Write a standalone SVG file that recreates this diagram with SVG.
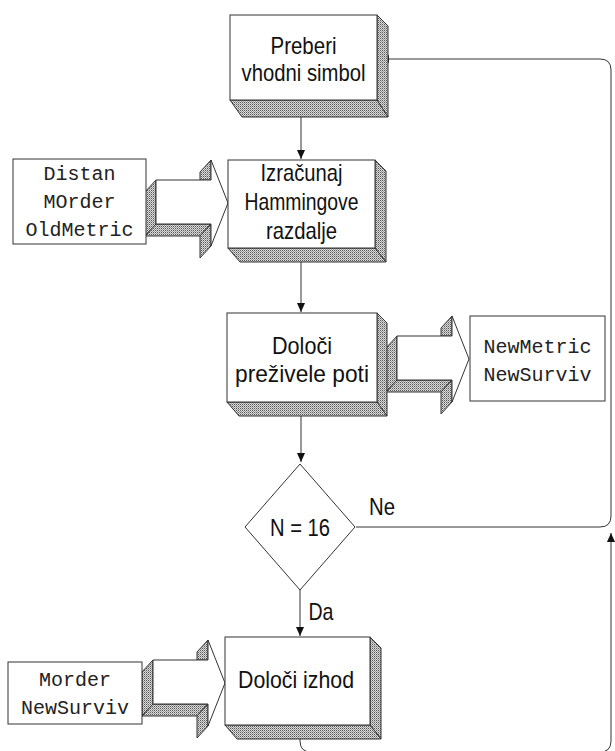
<svg xmlns="http://www.w3.org/2000/svg" xmlns:xlink="http://www.w3.org/1999/xlink" width="615" height="751" viewBox="0 0 615 751">
<style>
  .face { fill:#ffffff; stroke:#333; stroke-width:1; }
  .shade { fill:url(#stip); stroke:#333; stroke-width:1; stroke-linejoin:round; }
  .t { font-family:"Liberation Sans", Arial, sans-serif; font-size:24px; fill:#111; text-anchor:middle; }
  .m { font-family:"Liberation Mono", "Courier New", monospace; font-size:20px; fill:#222; text-anchor:middle; }
  .c { fill:none; stroke:#333; stroke-width:1; }
</style>
<defs>
  <pattern id="stip" width="2" height="2" patternUnits="userSpaceOnUse">
    <rect width="2" height="2" fill="#dcdcdc"/>
    <rect x="0" y="0" width="1" height="1" fill="#555"/>
    <rect x="1" y="1" width="1" height="1" fill="#999"/>
  </pattern>
  <marker id="ah" markerWidth="10" markerHeight="8" refX="9" refY="4" orient="auto" markerUnits="userSpaceOnUse">
    <path d="M0,0 L9,4 L0,8 Z" fill="#111"/>
  </marker>
  <g id="blk">
    <polygon class="shade" points="11,20 0,32 0,76 11,64"/>
    <polygon class="shade" points="11,64 66,64 55,76 0,76"/>
    <polygon class="shade" points="66,0 66,20 55,20 55,12"/>
    <polygon class="shade" points="66,64 66,86 55,98 55,76"/>
    <polygon class="face" points="11,20 66,20 66,0 83,43 66,86 66,64 11,64"/>
  </g>
</defs>
<rect width="615" height="751" fill="#ffffff"/>

<g id="connectors">
  <path class="c" d="M301,100 V159" marker-end="url(#ah)"/>
  <path class="c" d="M301,248 V312" marker-end="url(#ah)"/>
  <path class="c" d="M301,402 V462" marker-end="url(#ah)"/>
  <path class="c" d="M300,590 V636" marker-end="url(#ah)"/>
  <path class="c" d="M356,527 H600 Q611,527 611,516 V70 Q611,59 600,59 H380" marker-end="url(#ah)"/>
  <path class="c" d="M300,725 V741 Q300,752 311,752 H600 Q611,752 611,741 V533" marker-end="url(#ah)"/>
  <use xlink:href="#blk" transform="translate(145,160)"/>
  <use xlink:href="#blk" transform="translate(386,316)"/>
  <use xlink:href="#blk" transform="translate(142,640)"/>
</g>

<g id="n-preberi">
  <polygon class="shade" points="377,15 388,26 388,117 377,100"/>
  <polygon class="shade" points="230,100 242,117 388,117 377,100"/>
  <rect class="face" x="230" y="15" width="147" height="85"/>
  <text class="t" x="303.5" y="54" textLength="66" lengthAdjust="spacingAndGlyphs">Preberi</text>
  <text class="t" x="303.5" y="81" textLength="124" lengthAdjust="spacingAndGlyphs">vhodni simbol</text>
</g>

<g id="n-hamming">
  <polygon class="shade" points="375,160 386,171 386,262 375,248"/>
  <polygon class="shade" points="228,248 240,262 386,262 375,248"/>
  <rect class="face" x="228" y="160" width="147" height="88"/>
  <text class="t" x="301.5" y="181" textLength="82" lengthAdjust="spacingAndGlyphs">Izračunaj</text>
  <text class="t" x="301.5" y="210" textLength="114" lengthAdjust="spacingAndGlyphs">Hammingove</text>
  <text class="t" x="301.5" y="239" textLength="71" lengthAdjust="spacingAndGlyphs">razdalje</text>
</g>

<g id="n-doloci">
  <polygon class="shade" points="377,313 387,323 387,416 377,402"/>
  <polygon class="shade" points="227,402 239,416 387,416 377,402"/>
  <rect class="face" x="227" y="313" width="150" height="89"/>
  <text class="t" x="302" y="354" textLength="60" lengthAdjust="spacingAndGlyphs">Določi</text>
  <text class="t" x="302" y="382" textLength="134" lengthAdjust="spacingAndGlyphs">preživele poti</text>
</g>

<g id="n-decision">
  <polygon class="face" points="300,464 355,527 300,590 245,527"/>
  <text class="t" x="300" y="536" textLength="60" lengthAdjust="spacingAndGlyphs">N = 16</text>
</g>

<g id="n-izhod">
  <polygon class="shade" points="370,637 381,648 381,739 370,725"/>
  <polygon class="shade" points="225,725 237,739 381,739 370,725"/>
  <rect class="face" x="225" y="637" width="145" height="88"/>
  <text class="t" x="296" y="688" textLength="116" lengthAdjust="spacingAndGlyphs">Določi izhod</text>
</g>

<g id="n-distan">
  <rect class="face" x="13" y="159" width="133" height="85"/>
  <text class="m" x="79.5" y="180">Distan</text>
  <text class="m" x="79.5" y="208">MOrder</text>
  <text class="m" x="79.5" y="236">OldMetric</text>
</g>

<g id="n-newmetric">
  <rect class="face" x="470" y="316" width="135" height="85"/>
  <text class="m" x="537.5" y="353">NewMetric</text>
  <text class="m" x="537.5" y="381">NewSurviv</text>
</g>

<g id="n-morder">
  <rect class="face" x="8" y="662" width="134" height="62"/>
  <text class="m" x="75" y="686">Morder</text>
  <text class="m" x="75" y="714">NewSurviv</text>
</g>

<g id="labels">
  <text class="t" x="382" y="515" textLength="26" lengthAdjust="spacingAndGlyphs">Ne</text>
  <text class="t" x="321" y="620" textLength="25" lengthAdjust="spacingAndGlyphs">Da</text>
</g>
</svg>
